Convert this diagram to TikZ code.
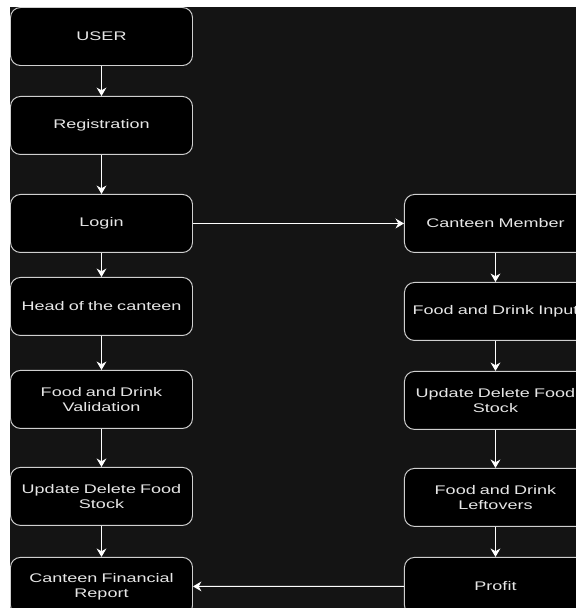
\documentclass[tikz,border=0pt]{standalone}
\usepackage{fontspec}
\newfontfamily\boxfont[FakeStretch=1.44]{Liberation Sans}
\usetikzlibrary{positioning,arrows.meta}
\definecolor{canvas}{HTML}{141414}
\definecolor{boxline}{HTML}{CFCFCF}
\definecolor{boxtext}{HTML}{E6E6E6}

\begin{document}
\begin{tikzpicture}[
	flowbox/.style={rectangle,rounded corners=0.25cm,draw=boxline,fill=black,line width=0.7pt,
		text=boxtext,font=\boxfont\fontsize{8.9}{10.6}\selectfont,align=center,
		inner xsep=0pt,text width=4.5cm,minimum width=4.55cm,minimum height=1.45cm},
	flowarrow/.style={draw=white,line width=0.7pt,-{Stealth[length=6pt,width=7pt]}},
	]
	\useasboundingbox (0,0) rectangle (14.4,-15.2);
	\fill[white] (0,0) rectangle (14.4,-15.2);
	\fill[canvas] (0.25,-0.175) rectangle (14.4,-15.2);
	\clip (0,0) rectangle (14.4,-15.2);
	\node [flowbox] (user) at (2.5375,-0.9125) {USER};
	\node [flowbox,below=0.75cm of user] (reg) {Registration};
	\node [flowbox,below=0.975cm of reg] (login) {Login};
	\node [flowbox,below=0.6cm of login] (head) {Head of the canteen};
	\node [flowbox,below=0.85cm of head] (valid) {Food and Drink\\Validation};
	\node [flowbox,below=0.95cm of valid] (headupd) {Update Delete Food\\Stock};
	\node [flowbox,below=0.775cm of headupd] (report) {Canteen Financial\\Report};
	\node [flowbox,right=5.275cm of login] (member) {Canteen Member};
	\node [flowbox,below=0.725cm of member] (input) {Food and Drink Input};
	\node [flowbox,below=0.75cm of input] (memberupd) {Update Delete Food\\Stock};
	\node [flowbox,below=0.95cm of memberupd] (leftover) {Food and Drink\\Leftovers};
	\node [flowbox,below=0.75cm of leftover] (profit) {Profit};
	\draw[flowarrow] (user) -- (reg);
	\draw[flowarrow] (reg) -- (login);
	\draw[flowarrow] (login) -- (head);
	\draw[flowarrow] (head) -- (valid);
	\draw[flowarrow] (valid) -- (headupd);
	\draw[flowarrow] (headupd) -- (report);
	\draw[flowarrow] (login) -- (member);
	\draw[flowarrow] (member) -- (input);
	\draw[flowarrow] (input) -- (memberupd);
	\draw[flowarrow] (memberupd) -- (leftover);
	\draw[flowarrow] (leftover) -- (profit);
	\draw[flowarrow] (profit) -- (report);
\end{tikzpicture}
\end{document}
